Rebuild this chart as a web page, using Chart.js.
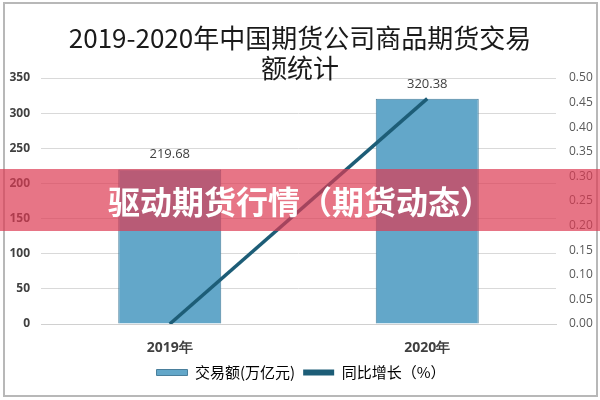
<!DOCTYPE html>
<html lang="zh">
  <head>
    <meta charset="UTF-8" />
    <title>2019-2020年中国期货公司商品期货交易额统计</title>
    <script src="https://cdn.jsdelivr.net/npm/chart.js"></script>
    <style>
      body { margin: 0; background: #fff; }
      #wrap { position: relative; width: 600px; height: 400px; }
      #title {
        position: absolute; left: 0; top: 22px; width: 600px; text-align: center;
        font: 26px/30px "Noto Sans CJK SC", sans-serif; color: #1a1a1a;
      }
      #frame { position: absolute; left: 3px; top: 2px; width: 591px; height: 391px; border: 2px solid #b8b8b8; pointer-events: none; }
      #banner {
        position: absolute; left: 0; top: 169px; width: 600px; height: 62px;
        background: rgba(221, 58, 82, 0.7);
        color: #fff; font: bold 32px "Noto Sans CJK SC", sans-serif;
        text-align: center; line-height: 62px;
      }
    </style>
  </head>
  <body>
    <div id="wrap">
      <canvas id="c" width="600" height="400"></canvas>
      <div id="title">2019-2020年中国期货公司商品期货交易<br />额统计</div>
      <div id="frame"></div>
      <div id="banner">驱动期货行情（期货动态）</div>
    </div>
    <script>
      // 数据
      const years = ["2019年", "2020年"];
      const amount = [219.68, 320.38];   // 交易额(万亿元)
      const growth = [0, 0.458];         // 同比增长（%）

      // 柱顶数值
      const barLabels = {
        id: "barLabels",
        afterDatasetsDraw(chart) {
          const ctx = chart.ctx;
          const meta = chart.getDatasetMeta(1);
          ctx.save();
          ctx.font = "13px 'Open Sans', sans-serif";
          ctx.fillStyle = "#404040";
          ctx.textAlign = "center";
          ctx.textBaseline = "middle";
          meta.data.forEach((bar, i) => {
            ctx.fillText(amount[i].toFixed(2), bar.x, bar.y - 15);
          });
          ctx.restore();
        },
      };

      new Chart(document.getElementById("c"), {
        data: {
          labels: years,
          datasets: [
            {
              type: "line",
              label: "同比增长（%）",
              data: growth,
              yAxisID: "y2",
              borderColor: "#1d5d77",
              backgroundColor: "#1d5d77",
              borderWidth: 3.5,
              pointRadius: 0,
              order: 0,
            },
            {
              type: "bar",
              label: "交易额(万亿元)",
              data: amount,
              yAxisID: "y",
              backgroundColor: "#63a7c9",
              borderColor: "#4a7f9c",
              borderWidth: 1,
              barPercentage: 0.4,
              categoryPercentage: 1,
              order: 1,
            },
          ],
        },
        options: {
          responsive: false,
          animation: false,
          layout: { padding: { left: 6, right: 4, top: 78, bottom: 10 } },
          plugins: {
            title: { display: false },
            legend: {
              position: "bottom",
              reverse: true,
              labels: {
                color: "#595959",
                font: { family: "'Noto Sans CJK SC'", size: 15 },
                boxWidth: 31,
                boxHeight: 6,
                padding: 8,
                generateLabels(chart) {
                  return chart.data.datasets.map((ds, i) => ({
                    text: ds.label,
                    fillStyle: ds.backgroundColor,
                    strokeStyle: ds.type === "line" ? ds.borderColor : "#4a7f9c",
                    lineWidth: ds.type === "line" ? 0 : 1,
                    datasetIndex: i,
                  }));
                },
              },
            },
            tooltip: { enabled: false },
          },
          scales: {
            x: {
              grid: { display: false, drawTicks: false },
              border: { color: "#d0d0d0" },
              ticks: { color: "#404040", font: { family: "'Open Sans'", size: 14, weight: "bold" }, padding: 16 },
              afterFit(s) { s.height = 33; },
            },
            y: {
              position: "left",
              min: 0,
              max: 350,
              border: { display: false },
              grid: { color: "#d9d9d9", drawTicks: false },
              ticks: { stepSize: 50, color: "#404040", font: { family: "'Open Sans'", size: 12, weight: "bold" }, padding: 11 },
              afterFit(s) { s.width = 35; },
            },
            y2: {
              position: "right",
              min: 0,
              max: 0.5,
              border: { display: false },
              grid: { display: false, drawTicks: false },
              ticks: {
                stepSize: 0.05,
                color: "#595959",
                font: { family: "'Open Sans'", size: 12 },
                padding: 13,
                callback: (v) => v.toFixed(2),
              },
              afterFit(s) { s.width = 40; },
            },
          },
        },
        plugins: [barLabels],
      });
    </script>
  </body>
</html>
